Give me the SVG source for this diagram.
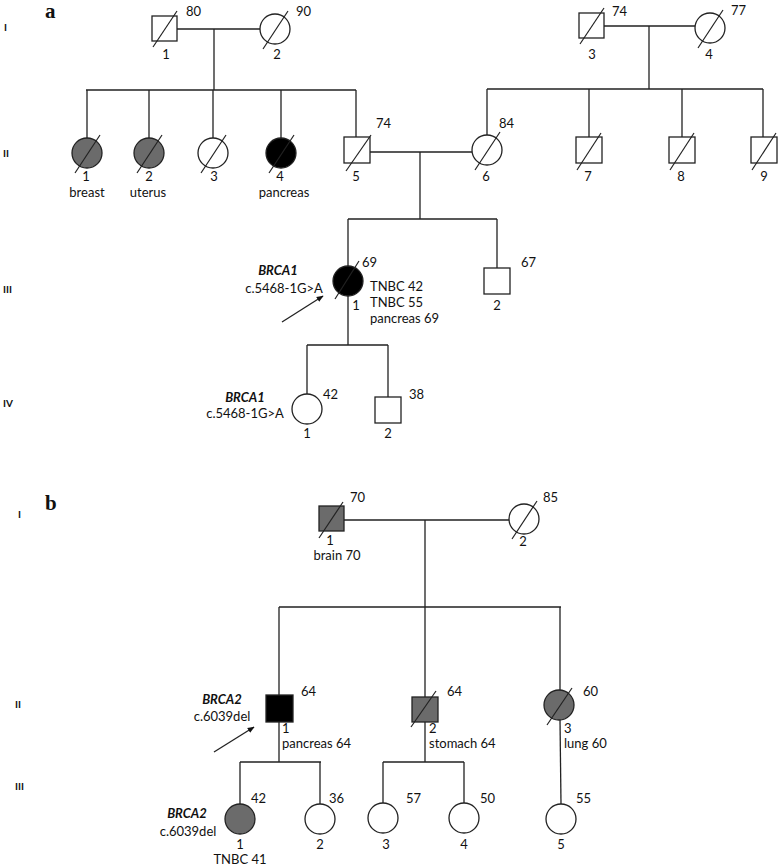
<svg xmlns="http://www.w3.org/2000/svg" width="778" height="868" viewBox="0 0 778 868">
<style>
.ln{stroke:#222;stroke-width:1.3;fill:none}
.sh{stroke:#222;stroke-width:1.3}
.wh{fill:#fff}.gr{fill:#6b6b6b}.bk{fill:#000}
.sl{stroke:#222;stroke-width:1.2}
text{font-family:Lato,"Open Sans","DejaVu Sans",sans-serif;font-size:13px;fill:#111}
.m{text-anchor:middle}
.g{font-size:10px;font-weight:bold}
.p{font-family:"Liberation Serif","DejaVu Serif",serif;font-size:21px;font-weight:bold}
.bi{font-weight:bold;font-style:italic}
</style>
<defs>
<marker id="ah" viewBox="0 0 10 10" refX="9" refY="5" markerWidth="7" markerHeight="7" orient="auto" markerUnits="userSpaceOnUse">
<path d="M0,1 L10,5 L0,9 Z" fill="#111"/>
</marker>
</defs>
<rect width="778" height="868" fill="#fff"/>

<!-- panel labels and generation labels -->
<text class="p" x="45" y="18">a</text>
<text class="p" x="45" y="510">b</text>
<text class="g" x="4" y="31">I</text>
<text class="g" x="3" y="157">II</text>
<text class="g" x="3" y="293">III</text>
<text class="g" x="3" y="407">IV</text>
<text class="g" x="18" y="518">I</text>
<text class="g" x="15" y="708">II</text>
<text class="g" x="15" y="790">III</text>

<g id="connectors">
<!-- panel a -->
<path class="ln" d="M177,29 H260 M214,29 V90 M86,90 H356 M87,90 V138 M149,90 V138 M213,90 V138 M281,90 V138 M356,90 V137"/>
<path class="ln" d="M604,26 H695 M649,26 V89 M487,89 H763 M487,89 V135 M589,89 V137 M682,89 V137 M763,89 V137"/>
<path class="ln" d="M370,152 H472 M420,152 V219 M348,219 H497 M348,219 V266 M497,219 V268"/>
<path class="ln" d="M348,296 V345 M307,345 H388 M307,345 V394 M388,345 V397"/>
<line class="ln" x1="282" y1="322" x2="323" y2="296" marker-end="url(#ah)"/>
<!-- panel b -->
<path class="ln" d="M344,520 H509 M425,520 V607 M279,607 H561 M279,607 V695 M425,607 V697 M560,607 V690"/>
<path class="ln" d="M279,722 V762 M240,762 H321 M240,762 V804 M320,762 V804"/>
<path class="ln" d="M425,722 V762 M383,762 H464 M383,762 V803 M464,762 V803"/>
<path class="ln" d="M560,720 L561,804"/>
<line class="ln" x1="214" y1="752" x2="254" y2="727" marker-end="url(#ah)"/>
</g>

<!-- ===== Panel a ===== -->
<g id="a-I-1">
<rect class="sh wh" x="152" y="16" width="25" height="25"/>
<line class="sl" x1="153" y1="47" x2="177" y2="11"/>
<text x="186" y="16">80</text><text class="m" x="166" y="59">1</text>
</g>
<g id="a-I-2">
<circle class="sh wh" cx="275" cy="29" r="15"/>
<line class="sl" x1="263" y1="49" x2="288" y2="11"/>
<text x="296" y="16">90</text><text class="m" x="277" y="59">2</text>
</g>
<g id="a-I-3">
<rect class="sh wh" x="579" y="13" width="25" height="25"/>
<line class="sl" x1="580" y1="44" x2="604" y2="8"/>
<text x="612" y="16">74</text><text class="m" x="592" y="59">3</text>
</g>
<g id="a-I-4">
<circle class="sh wh" cx="710" cy="28" r="15"/>
<line class="sl" x1="698" y1="48" x2="723" y2="10"/>
<text x="731" y="15">77</text><text class="m" x="709" y="59">4</text>
</g>

<g id="a-II-1">
<circle class="sh gr" cx="87" cy="153" r="15"/>
<line class="sl" x1="75" y1="173" x2="100" y2="135"/>
<text class="m" x="86" y="181">1</text><text class="m" x="87" y="197">breast</text>
</g>
<g id="a-II-2">
<circle class="sh gr" cx="149" cy="153" r="15"/>
<line class="sl" x1="137" y1="173" x2="162" y2="135"/>
<text class="m" x="149" y="181">2</text><text class="m" x="148" y="197">uterus</text>
</g>
<g id="a-II-3">
<circle class="sh wh" cx="213" cy="153" r="15"/>
<line class="sl" x1="201" y1="173" x2="226" y2="135"/>
<text class="m" x="214" y="181">3</text>
</g>
<g id="a-II-4">
<circle class="sh bk" cx="281" cy="153" r="15"/>
<line class="sl" x1="269" y1="173" x2="294" y2="135"/>
<text class="m" x="280" y="181">4</text><text class="m" x="284" y="197">pancreas</text>
</g>
<g id="a-II-5">
<rect class="sh wh" x="344" y="137" width="26" height="26"/>
<line class="sl" x1="346" y1="171" x2="371" y2="135"/>
<text x="376" y="128">74</text><text class="m" x="356" y="181">5</text>
</g>
<g id="a-II-6">
<circle class="sh wh" cx="487" cy="150" r="15"/>
<line class="sl" x1="475" y1="170" x2="500" y2="132"/>
<text x="499" y="128">84</text><text class="m" x="486" y="181">6</text>
</g>
<g id="a-II-7">
<rect class="sh wh" x="576" y="137" width="26" height="26"/>
<line class="sl" x1="577" y1="170" x2="601" y2="133"/>
<text class="m" x="588" y="181">7</text>
</g>
<g id="a-II-8">
<rect class="sh wh" x="669" y="137" width="26" height="26"/>
<line class="sl" x1="670" y1="170" x2="694" y2="133"/>
<text class="m" x="681" y="181">8</text>
</g>
<g id="a-II-9">
<rect class="sh wh" x="751" y="137" width="26" height="26"/>
<line class="sl" x1="752" y1="170" x2="776" y2="133"/>
<text class="m" x="764" y="181">9</text>
</g>

<g id="a-III-1">
<circle class="sh bk" cx="348" cy="281" r="15"/>
<line class="sl" x1="335" y1="299" x2="359" y2="261"/>
<text x="362" y="267">69</text><text class="m" x="356" y="310">1</text>
<text x="370" y="291">TNBC 42</text>
<text x="370" y="307">TNBC 55</text>
<text x="370" y="323">pancreas 69</text>
<text class="m bi" x="278" y="275">BRCA1</text>
<text class="m" x="284" y="293">c.5468-1G&gt;A</text>
</g>
<g id="a-III-2">
<rect class="sh wh" x="484" y="268" width="26" height="26"/>
<text x="521" y="267">67</text><text class="m" x="497" y="310">2</text>
</g>
<g id="a-IV-1">
<circle class="sh wh" cx="307" cy="409" r="15"/>
<text x="323" y="399">42</text><text class="m" x="307" y="438">1</text>
<text class="m bi" x="245" y="402">BRCA1</text>
<text class="m" x="245" y="418">c.5468-1G&gt;A</text>
</g>
<g id="a-IV-2">
<rect class="sh wh" x="375" y="397" width="26" height="26"/>
<text x="409" y="399">38</text><text class="m" x="388" y="438">2</text>
</g>

<!-- ===== Panel b ===== -->
<g id="b-I-1">
<rect class="sh gr" x="319" y="506" width="25" height="25"/>
<line class="sl" x1="319" y1="538" x2="343" y2="502"/>
<text x="350" y="502">70</text><text class="m" x="330" y="545">1</text>
<text class="m" x="337" y="560">brain 70</text>
</g>
<g id="b-I-2">
<circle class="sh wh" cx="524" cy="519" r="15"/>
<line class="sl" x1="512" y1="539" x2="537" y2="501"/>
<text x="543" y="502">85</text><text class="m" x="523" y="546">2</text>
</g>
<g id="b-II-1">
<rect class="sh bk" x="266" y="695" width="27" height="27"/>
<text x="301" y="696">64</text><text x="282" y="733">1</text>
<text x="282" y="748">pancreas 64</text>
<text class="m bi" x="222" y="704">BRCA2</text>
<text class="m" x="222" y="721">c.6039del</text>
</g>
<g id="b-II-2">
<rect class="sh gr" x="412" y="697" width="26" height="25"/>
<line class="sl" x1="411" y1="727" x2="436" y2="691"/>
<text x="447" y="696">64</text><text x="429" y="733">2</text>
<text x="429" y="748">stomach 64</text>
</g>
<g id="b-II-3">
<circle class="sh gr" cx="559" cy="705" r="15"/>
<line class="sl" x1="547" y1="725" x2="572" y2="688"/>
<text x="583" y="696">60</text><text x="564" y="733">3</text>
<text x="564" y="748">lung 60</text>
</g>
<g id="b-III-1">
<circle class="sh gr" cx="240" cy="819" r="15"/>
<text x="251" y="803">42</text><text class="m" x="240" y="849">1</text>
<text class="m" x="240" y="864">TNBC 41</text>
<text class="m bi" x="187" y="818">BRCA2</text>
<text class="m" x="188" y="836">c.6039del</text>
</g>
<g id="b-III-2">
<circle class="sh wh" cx="320" cy="819" r="15"/>
<text x="329" y="803">36</text><text class="m" x="320" y="849">2</text>
</g>
<g id="b-III-3">
<circle class="sh wh" cx="383" cy="818" r="15"/>
<text x="406" y="803">57</text><text class="m" x="386" y="849">3</text>
</g>
<g id="b-III-4">
<circle class="sh wh" cx="464" cy="818" r="15"/>
<text x="480" y="803">50</text><text class="m" x="464" y="849">4</text>
</g>
<g id="b-III-5">
<circle class="sh wh" cx="561" cy="819" r="15"/>
<text x="576" y="803">55</text><text class="m" x="561" y="849">5</text>
</g>
</svg>
